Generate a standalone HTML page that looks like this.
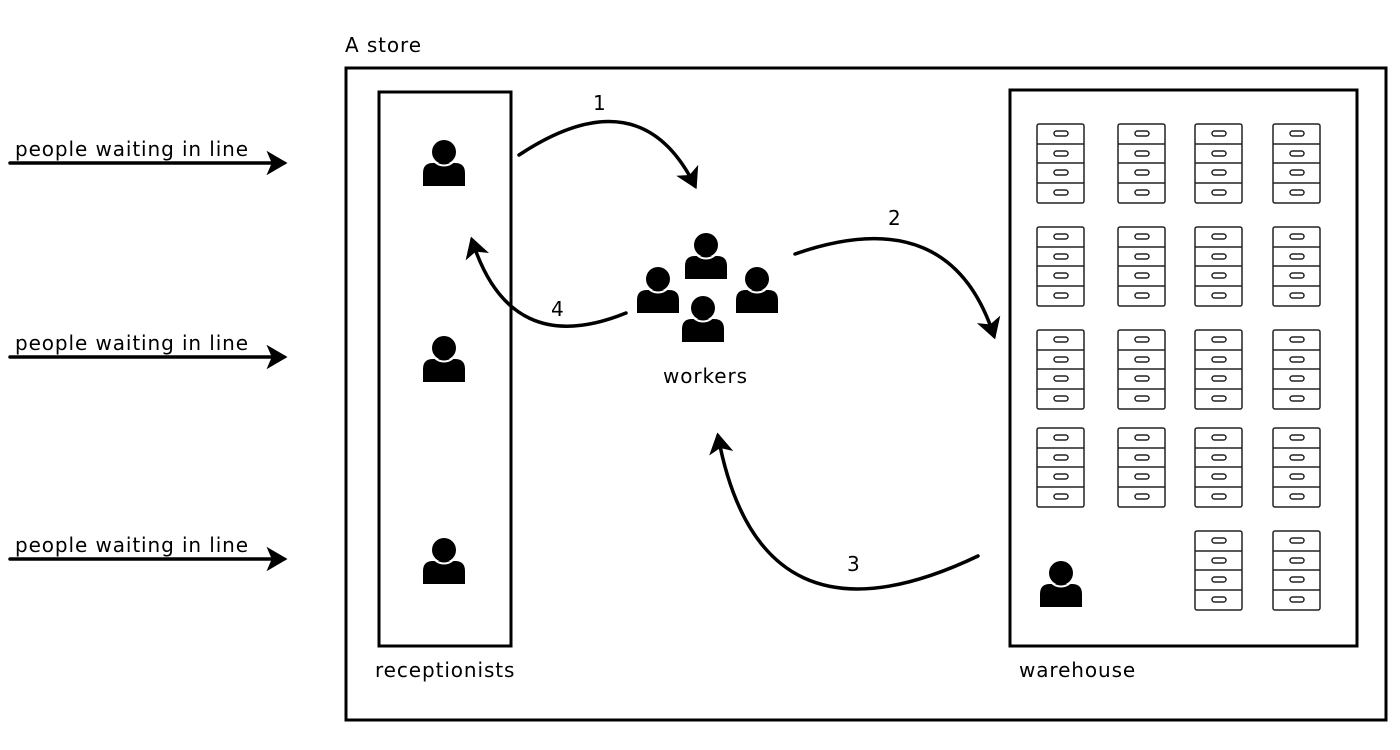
<!DOCTYPE html>
<html><head><style>body{margin:0;background:#fff}svg{display:block}text{font-family:"DejaVu Sans",sans-serif;font-size:20px;fill:#000;letter-spacing:0.9px}</style></head>
<body>
<svg width="1400" height="750" viewBox="0 0 1400 750">
<defs>
<marker id="ah" markerWidth="8" markerHeight="8" refX="5" refY="4" orient="auto" markerUnits="strokeWidth"><path d="M0,0.5 L6,4 L0,7.5 L1.5,4 Z" fill="#000"/></marker>
<g id="p"><circle cx="0" cy="-9" r="12"/><path d="M-21,25 L-21,12 Q-21,2 -11,2 L11,2 Q21,2 21,12 L21,25 Z"/><circle cx="0" cy="-9" r="13.5" fill="none" stroke="#fff" stroke-width="2"/></g>
<g id="c" fill="#fff" stroke="#222" stroke-width="1.5"><rect x="0" y="0" width="47" height="79" rx="2"/><line x1="0" y1="20" x2="47" y2="20"/><line x1="0" y1="39" x2="47" y2="39"/><line x1="0" y1="59" x2="47" y2="59"/>
<rect x="17" y="7" width="14" height="5" rx="2.5"/><rect x="17" y="27" width="14" height="5" rx="2.5"/><rect x="17" y="46" width="14" height="5" rx="2.5"/><rect x="17" y="66" width="14" height="5" rx="2.5"/></g>
</defs>
<text x="345" y="52">A store</text>
<rect x="346" y="68" width="1040" height="652" fill="none" stroke="#000" stroke-width="3"/>
<rect x="379" y="92" width="132" height="554" fill="none" stroke="#000" stroke-width="3"/>
<rect x="1010" y="90" width="347" height="556" fill="none" stroke="#000" stroke-width="3"/>
<text x="375" y="677">receptionists</text>
<text x="1019" y="677">warehouse</text>
<text x="663" y="383">workers</text>
<g stroke="#000" stroke-width="3.5" fill="none" stroke-linecap="round">
<line x1="10" y1="163" x2="284" y2="163" marker-end="url(#ah)"/>
<line x1="10" y1="357" x2="284" y2="357" marker-end="url(#ah)"/>
<line x1="10" y1="559" x2="284" y2="559" marker-end="url(#ah)"/>
<path d="M519,155 Q640,75 695,186" marker-end="url(#ah)"/>
<path d="M626,313 Q510,360 472,240" marker-end="url(#ah)"/>
<path d="M795,254 Q950,200 994,336" marker-end="url(#ah)"/>
<path d="M978,556 Q760,660 718,436" marker-end="url(#ah)"/>
</g>
<text x="15" y="156">people waiting in line</text>
<text x="15" y="350">people waiting in line</text>
<text x="15" y="552">people waiting in line</text>
<text x="593" y="110" font-size="17">1</text>
<text x="888" y="225" font-size="17">2</text>
<text x="847" y="571" font-size="17">3</text>
<text x="551" y="316" font-size="17">4</text>
<use href="#p" x="444" y="161"/><use href="#p" x="444" y="357"/><use href="#p" x="444" y="559"/>
<use href="#p" x="706" y="254"/><use href="#p" x="658" y="288"/><use href="#p" x="757" y="288"/><use href="#p" x="703" y="317"/>
<use href="#p" x="1061" y="582"/>
<use href="#c" x="1037" y="124"/><use href="#c" x="1118" y="124"/><use href="#c" x="1195" y="124"/><use href="#c" x="1273" y="124"/>
<use href="#c" x="1037" y="227"/><use href="#c" x="1118" y="227"/><use href="#c" x="1195" y="227"/><use href="#c" x="1273" y="227"/>
<use href="#c" x="1037" y="330"/><use href="#c" x="1118" y="330"/><use href="#c" x="1195" y="330"/><use href="#c" x="1273" y="330"/>
<use href="#c" x="1037" y="428"/><use href="#c" x="1118" y="428"/><use href="#c" x="1195" y="428"/><use href="#c" x="1273" y="428"/>
<use href="#c" x="1195" y="531"/><use href="#c" x="1273" y="531"/>
</svg>
</body></html>
